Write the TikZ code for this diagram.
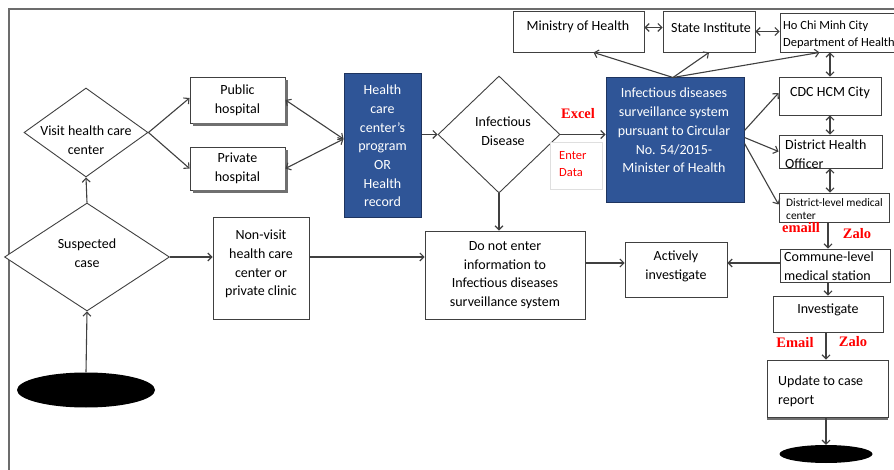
\documentclass[tikz,border=0pt]{standalone}
\usepackage{fontspec}
\setmainfont{Carlito}
\newfontfamily\serifb{Liberation Serif}
\usetikzlibrary{arrows.meta,shapes.geometric,calc}
\definecolor{ln}{HTML}{404040}
\definecolor{bluef}{RGB}{47,85,151}
\definecolor{blued}{RGB}{30,52,95}
\definecolor{redt}{RGB}{255,0,0}
\begin{document}
\begin{tikzpicture}[x=1pt,y=-1pt,
  line/.style={draw=ln, line width=1.1pt},
  arr/.style={line, -{Straight Barb[length=4pt,width=8pt]}},
  darr/.style={line, {Straight Barb[length=4pt,width=8pt]}-{Straight Barb[length=4pt,width=8pt]}},
  box/.style={draw=ln, line width=0.9pt, fill=white, inner sep=0pt, rectangle},
  bluebox/.style={draw=blued, line width=1pt, fill=bluef, inner sep=0pt, rectangle},
  dia/.style={draw=ln, line width=0.9pt, diamond, inner sep=0pt, fill=white},
  txt/.style={font=\fontsize{14}{18.7}\selectfont, align=center, inner sep=0pt},
  ltxt/.style={txt, align=left, anchor=west},
  wtxt/.style={txt, text=white},
  lab/.style={font=\serifb\bfseries\fontsize{14.5}{16}\selectfont, text=redt, inner sep=0pt},
  blob/.style={ellipse, fill=black, draw=none, inner sep=0pt},
  shad/.style={fill=ln!75}
]
\useasboundingbox (0,0) rectangle (894,470);
\clip (0,0) rectangle (894,470);
\fill[white] (0,0) rectangle (894,470);
\draw[draw=gray!85!black, line width=1.3pt] (9,470) -- (9,9) -- (894,9);

% left part
\node[dia, minimum width=124pt, minimum height=89pt] (vis) at (86,132.5) {};
\node[txt] (vist) at (86,140) {Visit health care\\center};
\node[dia, minimum width=165pt, minimum height=108pt] (sus) at (87,257) {};
\node[txt] (sust) at (87,253) {Suspected\\case};
\node[blob, minimum width=138pt, minimum height=35pt] (ell1) at (86,390) {};

\node[box, txt, minimum width=95pt, minimum height=46pt] (pub) at (237.5,100) {Public\\hospital};
\node[box, txt, minimum width=95pt, minimum height=43pt] (pri) at (237.5,168.5) {Private\\hospital};
\fill[shad] ($(pub.north east)+(0,3)$) rectangle ($(pub.south east)+(2.5,2.5)$);
\fill[shad] ($(pub.south west)+(3,0)$) rectangle ($(pub.south east)+(2.5,2.5)$);
\fill[shad] ($(pri.north east)+(0,3)$) rectangle ($(pri.south east)+(2.5,2.5)$);
\fill[shad] ($(pri.south west)+(3,0)$) rectangle ($(pri.south east)+(2.5,2.5)$);

\node[bluebox, wtxt, minimum width=77pt, minimum height=144pt] (hcc) at (382.5,146) {Health\\care\\center’s\\program\\OR\\Health\\record};

\node[dia, minimum width=122pt, minimum height=117pt] (inf) at (499,134.5) {};
\node[txt] (inft) at (503,131) {Infectious\\Disease};

\node[box, minimum width=96pt, minimum height=102pt] (nv) at (261,268) {};
\node[txt] (nvt) at (261,264) {Non-visit\\health care\\center or\\private clinic};

\node[box, txt, minimum width=160pt, minimum height=88pt] (dne) at (505,275) {Do not enter\\information to\\Infectious diseases\\surveillance system};

% middle / right
\node[box, minimum width=52pt, minimum height=47pt, draw=gray!25, line width=0.6pt] (ent) at (576,165.5) {};
\node[ltxt, font=\fontsize{12.5}{17}\selectfont, text=redt] (entt) at (559,164) {Enter\\Data};
\node[lab] (excel) at (578,114) {Excel};

\node[bluebox, minimum width=138pt, minimum height=125pt] (idss) at (675,140.5) {};
\node[wtxt] (idsst) at (674,130.5) {Infectious diseases\\surveillance system\\pursuant to Circular\\No. 54/2015-\\Minister of Health};

\node[box, minimum width=131pt, minimum height=41pt] (moh) at (578.5,31.5) {};
\node[txt] (moht) at (578,27) {Ministry of Health};
\node[box, minimum width=92pt, minimum height=41pt] (si) at (709,31.5) {};
\node[txt] (sit) at (711,28) {State Institute};
\node[box, minimum width=125pt, minimum height=39pt] (hcmc) at (842.5,32.5) {};
\node[ltxt, font=\fontsize{12.5}{17}\selectfont] (hcmct) at (783,34.5) {Ho Chi Minh City\\Department of Health};

\node[box, minimum width=102pt, minimum height=38pt] (cdc) at (830,96) {};
\node[txt] (cdct) at (830,93) {CDC HCM City};
\node[box, minimum width=103pt, minimum height=33pt] (dho) at (830.5,151.5) {};
\node[ltxt, font=\fontsize{14}{18.5}\selectfont] (dhot) at (785,154) {District Health\\Officer};
\node[box, minimum width=110pt, minimum height=29pt] (dlm) at (834,207.5) {};
\node[ltxt, font=\fontsize{11.4}{13.4}\selectfont] (dlmt) at (786,209) {District-level medical\\center};
\node[lab] (l1) at (801,228) {emaill};
\node[lab] (l2) at (857,234) {Zalo};

\node[box, minimum width=110pt, minimum height=33pt] (com) at (835,265.5) {};
\node[ltxt, font=\fontsize{14}{19}\selectfont] (comt) at (784,266.5) {Commune-level\\medical station};
\node[box, minimum width=102pt, minimum height=55pt] (act) at (676,269.5) {};
\node[txt] (actt) at (676,266) {Actively\\investigate};
\node[box, minimum width=110pt, minimum height=36pt] (inv) at (828,314) {};
\node[txt] (invt) at (828,310) {Investigate};
\node[lab] (l3) at (795,343) {Email};
\node[lab] (l4) at (853,342) {Zalo};
\node[box, minimum width=121pt, minimum height=57pt] (upd) at (827.5,388.5) {};
\fill[shad] ($(upd.south west)+(0,0.5)$) rectangle ($(upd.south east)+(0,2.5)$);
\node[ltxt, font=\fontsize{14}{19}\selectfont] (updt) at (778,391.5) {Update to case\\report};
\node[blob, minimum width=93pt, minimum height=18pt] (ell2) at (826,454) {};

% connectors
\draw[arr] (ell1.north) -- (sus.south);
\draw[arr] (sus.north) -- (vis.south);
\draw[arr] (vis.east) -- ($(pub.west)+(0,-2)$);
\draw[arr] (vis.east) -- (pri.west);
\coordinate (hcin) at ($(hcc.west)+(0,-7)$);
\draw[darr] (pub.east) -- (hcin);
\draw[darr] (pri.east) -- (hcin);
\draw[arr] (hcc.east |- inf.west) -- (inf.west);
\draw[arr] (inf.east) -- (inf.east -| idss.west);
\draw[arr] (inf.south) -- (inf.south |- dne.north);
\draw[arr] (sus.east) -- (sus.east -| nv.west);
\draw[arr] (nv.east |- sus.east) -- (dne.west |- sus.east);
\coordinate (actw) at ($(act.west)+(0,-6.5)$);
\coordinate (acte) at ($(act.east)+(0,-6.5)$);
\draw[arr] (dne.east |- actw) -- (actw);
\draw[arr] (com.west |- acte) -- (acte);

\coordinate (itop) at ($(idss.north)+(-2,0)$);
\draw[arr] (itop) -- ($(moh.south)+(15,0)$);
\draw[arr] (itop) -- (si.south);
\draw[arr] (itop) -- ($(hcmc.south west)+(40,0)$);
\draw[darr] ($(moh.east)+(0,-4)$) -- ($(si.west)+(0,-4)$);
\draw[darr] (si.east) -- (si.east -| hcmc.west);
\draw[darr] (cdc.north |- hcmc.south) -- (cdc.north);
\draw[darr] (cdc.south) -- (cdc.south |- dho.north);
\draw[darr] (cdc.south |- dho.south) -- (cdc.south |- dlm.north);
\draw[arr] ($(idss.east)+(0,-10)$) -- ($(cdc.west)+(0,-3)$);
\draw[arr] ($(idss.east)+(0,-3)$) -- (dho.west);
\draw[arr] ($(idss.east)+(0,3)$) -- ($(dlm.west)+(0,-3)$);
\draw[arr] (inv.north |- dlm.south) -- (inv.north |- com.north);
\draw[arr] (inv.north |- com.south) -- (inv.north);
\draw[arr] (ell2.north |- inv.south) -- (ell2.north |- upd.north);
\draw[arr] (ell2.north |- upd.south) -- (ell2.north);
\end{tikzpicture}
\end{document}
